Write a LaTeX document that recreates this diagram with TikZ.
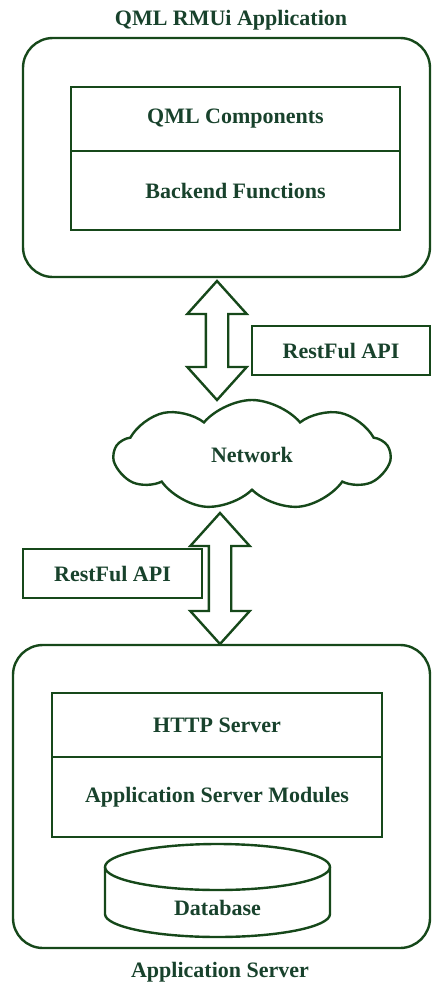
\documentclass[tikz,border=0pt]{standalone}
\usepackage{fontspec}
\setmainfont{Liberation Serif}
\usetikzlibrary{shapes.arrows,shapes.symbols}
\definecolor{linegreen}{RGB}{22,72,26}
\definecolor{textgreen}{RGB}{24,66,44}

\begin{document}
\begin{tikzpicture}[x=1pt,y=-1pt]
  \tikzstyle{line}=[draw=linegreen,line width=2.4pt]
  \tikzstyle{frame}=[line,rounded corners=30pt,inner sep=0]
  \tikzstyle{layer}=[line,inner sep=0,font=\fontsize{22}{24}\bfseries,text=textgreen]
  \tikzstyle{lbl}=[inner sep=0,font=\fontsize{22}{24}\bfseries,text=textgreen]
  \tikzstyle{fatarrow}=[line,fill=white,double arrow,rotate=90,inner xsep=0,inner ysep=10,
     double arrow head extend=18.5,double arrow tip angle=84]
  \useasboundingbox (0,0) rectangle (432,985);
  \node[frame,minimum width=407,minimum height=239] (app) at (226.5,157.5) {};
  \node[lbl] (apptitle) at (231,20) {QML RMUi Application};
  \node[layer,minimum width=329,minimum height=64] (qml) at (235.5,119) {QML Components};
  \node[layer,minimum width=329,minimum height=79] (backend) at (235.5,190.5) {Backend Functions};
  \node[layer,fill=white,cloud,cloud puffs=9,cloud puff arc=100,aspect=2.5,
     minimum width=275,minimum height=110] (net) at (252,455) {Network};
  \node[fatarrow,minimum height=119] (arrup) at (217,340.5) {};
  \node[layer,fill=white,minimum width=178,minimum height=49] (restup) at (341,350.5) {RestFul API};
  \node[frame,minimum width=417,minimum height=303] (srv) at (221.5,796.5) {};
  \node[fatarrow,minimum height=131] (arrdown) at (220,578.5) {};
  \node[layer,fill=white,minimum width=179,minimum height=49] (restdown) at (112.5,573.5) {RestFul API};
  \node[layer,minimum width=330,minimum height=64] (http) at (217,725) {HTTP Server};
  \node[layer,minimum width=330,minimum height=80] (modules) at (217,797) {Application Server Modules};
  \draw[line] (105,867) -- (105,914) arc[start angle=180,end angle=0,x radius=112.5,y radius=23] -- (330,867);
  \draw[line] (217.5,867) ellipse[x radius=112.5,y radius=23];
  \node[lbl] (db) at (217.5,908) {Database};
  \node[lbl] (srvtitle) at (220,972) {Application Server};
\end{tikzpicture}
\end{document}
